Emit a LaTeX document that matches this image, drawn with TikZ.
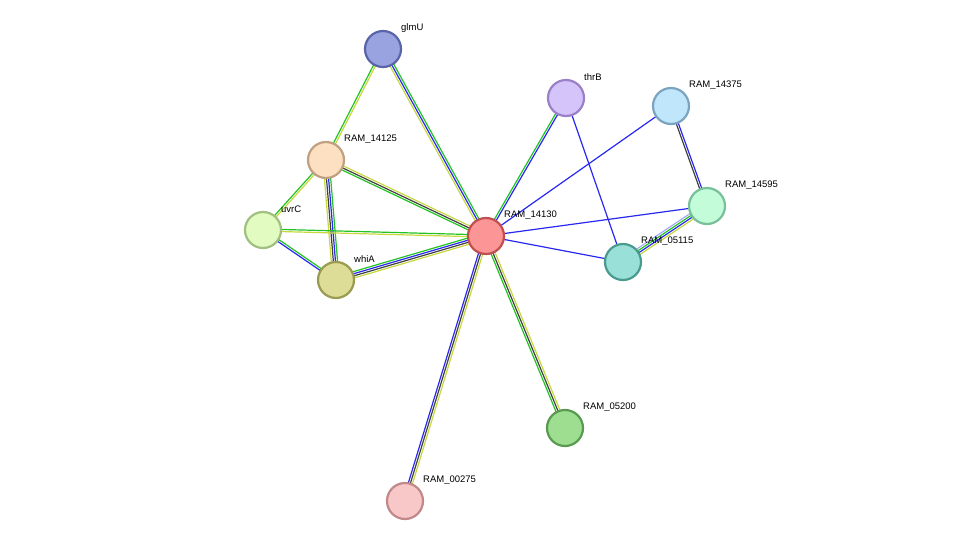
\documentclass[tikz,border=0pt]{standalone}
\usepackage{fontspec}
\setmainfont{Liberation Sans}
\usetikzlibrary{calc}
\definecolor{cg}{HTML}{22C322}
\definecolor{cy}{HTML}{C8D840}
\definecolor{cb}{HTML}{2828F0}
\definecolor{ck}{HTML}{404040}
\definecolor{cl}{HTML}{A8A8F8}
\newcommand{\ppiedge}[4]{%
  \foreach \c [count=\k] in {#4}{%
    \pgfmathsetmacro{\off}{(\k-(#3+1)/2)*2.1}%
    \draw[\c,line width=1.2pt] ($(#1)!\off pt!90:(#2)$) -- ($(#2)!\off pt!-90:(#1)$);
  }}
\begin{document}
\begin{tikzpicture}[x=1pt,y=-1pt,
  prot/.style={circle,minimum size=36pt,line width=2.2pt,inner sep=0pt},
  lab/.style={anchor=west,font=\fontsize{9.5}{10}\selectfont,inner sep=0pt}]
\useasboundingbox (0,0) rectangle (975,547);
\coordinate (glmU) at (383,49);
\coordinate (thrB) at (566,98);
\coordinate (r14375) at (671,106);
\coordinate (r14125) at (326,160);
\coordinate (r14595) at (707,206);
\coordinate (uvrC) at (263,230);
\coordinate (r14130) at (486,236);
\coordinate (r05115) at (623,262);
\coordinate (whiA) at (336,280);
\coordinate (r05200) at (565,428);
\coordinate (r00275) at (405,501);
\ppiedge{glmU}{r14125}{2}{cg,cy}
\ppiedge{glmU}{r14130}{3}{cy,cb,cg}
\ppiedge{r14125}{r14130}{3}{cg,ck,cy}
\ppiedge{r14125}{uvrC}{2}{cg,cy}
\ppiedge{r14125}{whiA}{4}{cy,ck,cb,cg}
\ppiedge{uvrC}{r14130}{2}{cy,cg}
\ppiedge{uvrC}{whiA}{2}{cb,cg}
\ppiedge{whiA}{r14130}{4}{cy,ck,cb,cg}
\ppiedge{thrB}{r14130}{2}{cg,cb}
\ppiedge{thrB}{r05115}{1}{cb}
\ppiedge{r14375}{r14130}{1}{cb}
\ppiedge{r14375}{r14595}{2}{ck,cb}
\ppiedge{r14595}{r14130}{1}{cb}
\ppiedge{r14595}{r05115}{4}{cl,cg,cb,cy}
\ppiedge{r05115}{r14130}{1}{cb}
\ppiedge{r14130}{r05200}{3}{cg,ck,cy}
\ppiedge{r14130}{r00275}{3}{cb,ck,cy}
\foreach \n/\f/\d/\t in {glmU/99A3E0/5A64A8/glmU, thrB/D4C4FA/9A80C8/thrB, r14375/BFE6FB/7BA4C0/RAM\_14375,
  r14125/FDDFC2/C0A080/RAM\_14125, r14595/C2FCD8/78C09A/RAM\_14595, uvrC/E2FBC0/A0C080/uvrC,
  r14130/FC9595/C05050/RAM\_14130, r05115/98E0D8/4A9A90/RAM\_05115, whiA/DEDD98/9A9A50/whiA,
  r05200/9EDE90/5A9A50/RAM\_05200, r00275/F8C8C8/C08888/RAM\_00275}{
  \definecolor{tf}{HTML}{\f}\definecolor{td}{HTML}{\d}
  \node[prot,fill=tf,draw=td] (\n-n) at (\n) {};
  \node[lab] (\n-l) at ($(\n)+(18,-21)$) {\t};
}
\end{tikzpicture}
\end{document}
